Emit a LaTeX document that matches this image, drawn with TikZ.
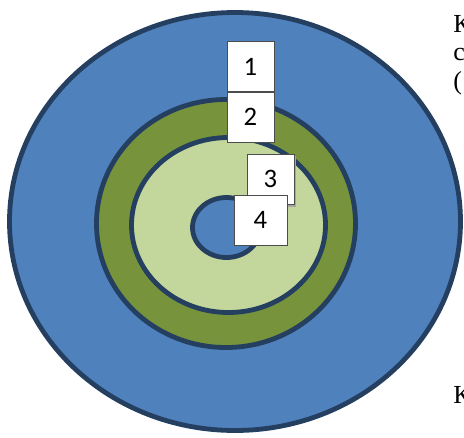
\documentclass[tikz,border=0pt]{standalone}
\usepackage{fontspec}
\setmainfont{Liberation Serif}
\newfontfamily\numfont{Carlito}
\usetikzlibrary{positioning}
\definecolor{ringblue}{RGB}{79,129,189}
\definecolor{ringedge}{RGB}{36,63,96}
\definecolor{ringgreen}{RGB}{119,147,60}
\definecolor{ringlight}{RGB}{195,214,155}

\begin{document}
\begin{tikzpicture}[x=0.75pt,y=-0.75pt]
  \tikzstyle{ring}=[draw=ringedge,line width=3.6pt]
  \tikzstyle{numbox}=[draw=black!70,line width=0.6pt,fill=white,inner sep=0pt,
    minimum width=35.3pt,minimum height=37.5pt,font=\numfont\fontsize{20}{24}\selectfont]
  \tikzstyle{sidetext}=[anchor=base west,inner sep=0pt,font=\fontsize{19.5}{22}\selectfont]

  \useasboundingbox (0,0) rectangle (464,437);
  \clip (0,0) rectangle (464,437);

  % -- Concentric rings --
  \filldraw[ring,fill=ringblue]  (235,221.5) ellipse [x radius=225.5, y radius=209];
  \filldraw[ring,fill=ringgreen] (226,223.5) ellipse [x radius=129.5, y radius=124];
  \filldraw[ring,fill=ringlight] (228.5,225) ellipse [x radius=97, y radius=87.5];
  \filldraw[ring,fill=ringblue]  (226.5,227.5) ellipse [x radius=34, y radius=30];

  % -- Number labels --
  \node[numbox] (one) at (250.5,66.5) {1};
  \node[numbox,below=0pt of one] (two) {2};
  \fill[black!35] (249.5,155.5) rectangle (296,207);
  \node[numbox] (three) at (270.5,179) {3};
  \node[numbox,minimum width=39.8pt,minimum height=37.5pt] (four) at (260.5,220) {4};

  % -- Side text (cut at the edge) --
  \node[sidetext] (lineA) at (453,32) {К};
  \node[sidetext] (lineB) at (453,60) {с};
  \node[sidetext] (lineC) at (453,89) {(};
  \node[sidetext] (lineD) at (453,403) {К};
\end{tikzpicture}
\end{document}
